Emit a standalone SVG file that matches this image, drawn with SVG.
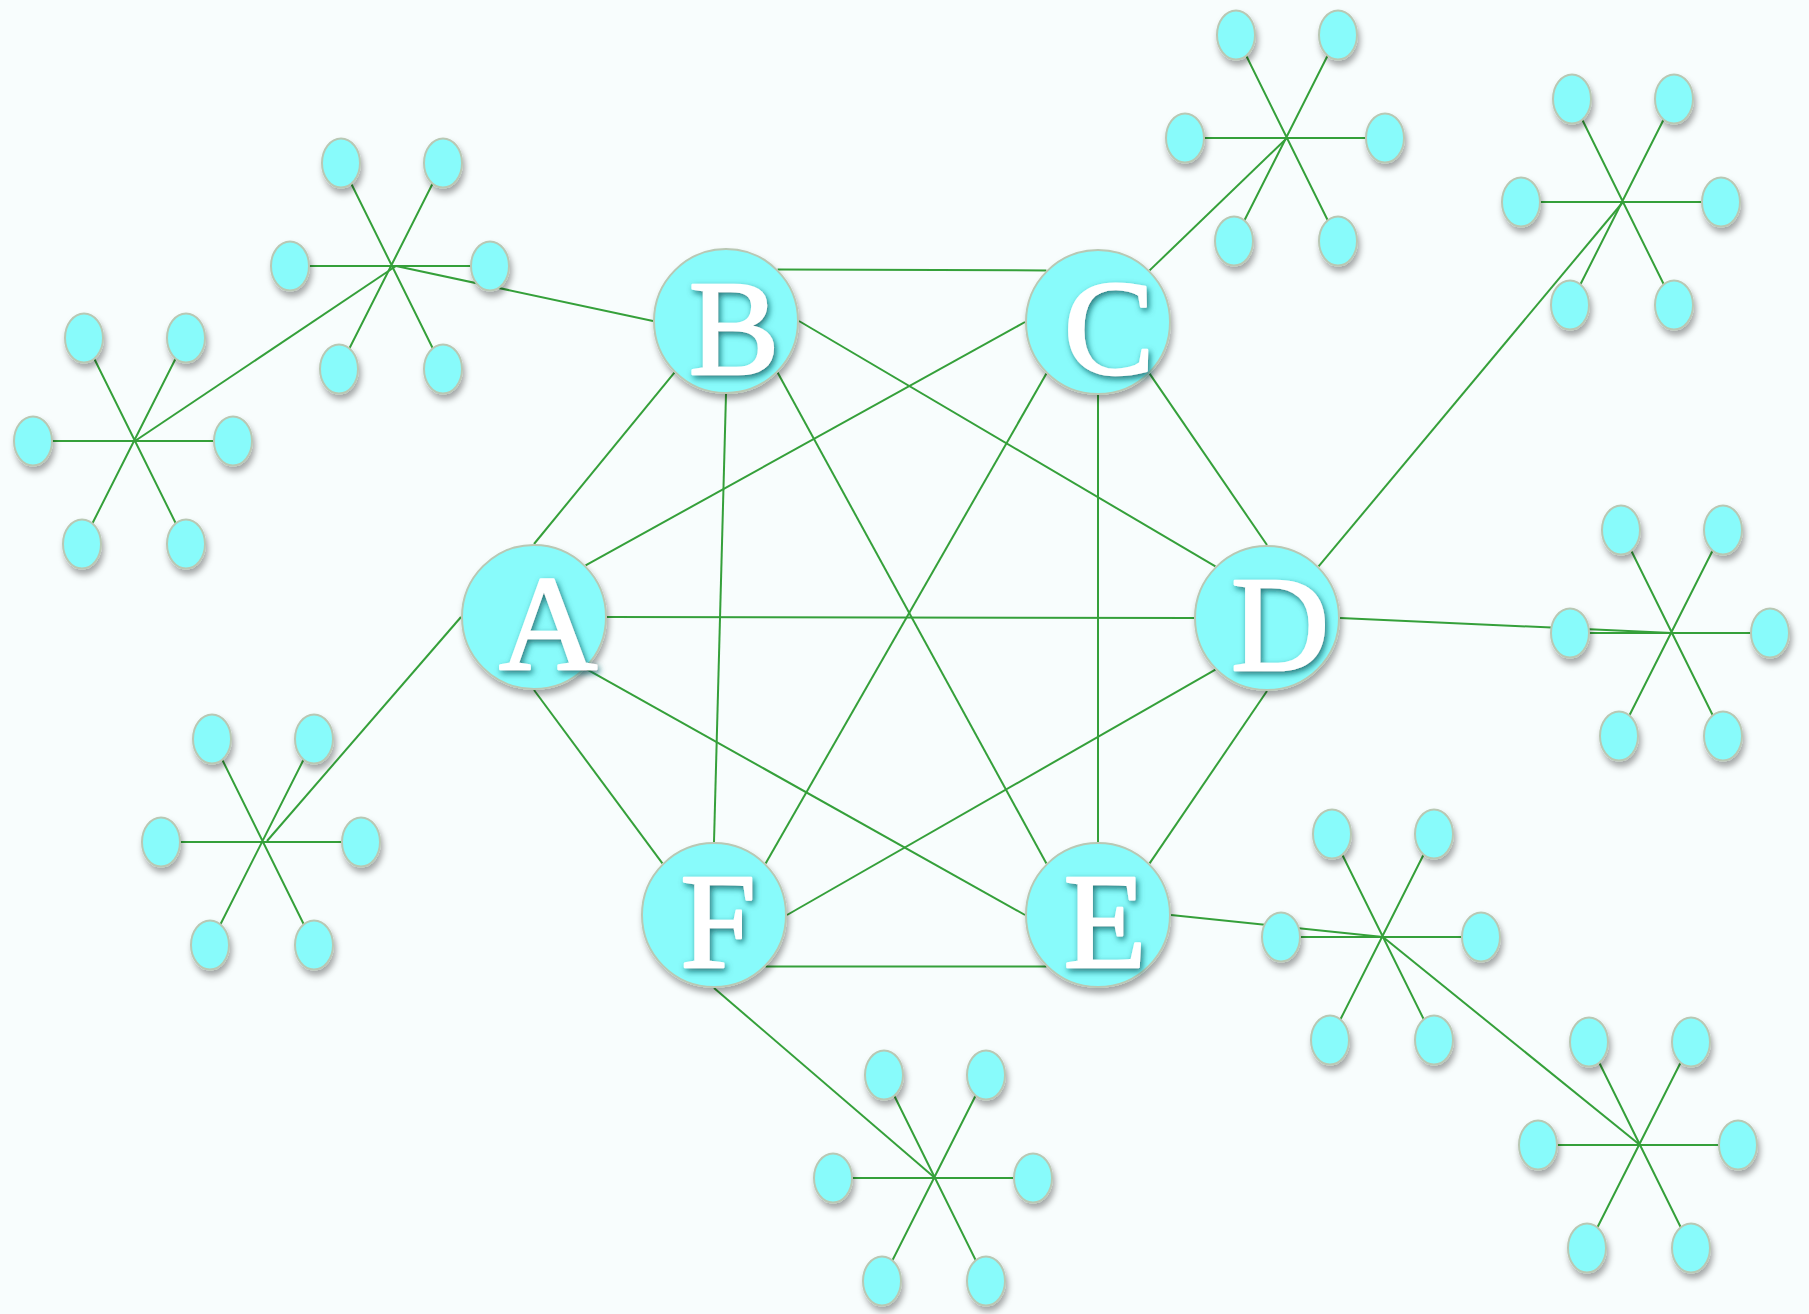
<svg xmlns="http://www.w3.org/2000/svg" width="1809" height="1314" viewBox="0 0 1809 1314">
<defs>
<filter id="sh" x="-30%" y="-30%" width="160%" height="170%">
<feDropShadow dx="2" dy="5" stdDeviation="3" flood-color="#000" flood-opacity="0.35"/>
</filter>
<filter id="tsh" x="-30%" y="-30%" width="160%" height="160%">
<feDropShadow dx="2" dy="3" stdDeviation="3" flood-color="#0d5f63" flood-opacity="0.85"/>
</filter>
<style>
.bg{fill:#f8fdfd}
.e{stroke:#35a03a;stroke-width:2;fill:none}
.m{fill:#88fbfb;stroke:#b9c8b4;stroke-width:2;filter:url(#sh)}
.s{fill:#88fbfb;stroke:#b9c8b4;stroke-width:2;filter:url(#sh)}
.t{font-family:"Liberation Serif","Times New Roman",serif;font-size:136px;font-weight:normal;fill:#ffffff;stroke:#ffffff;stroke-width:2.5;stroke-linejoin:round;text-anchor:middle;filter:url(#tsh)}
</style>
</defs>
<rect class="bg" x="0" y="0" width="1809" height="1314"/>
<g id="connectors" class="e">
<line x1="777.6" y1="269.4" x2="1046.4" y2="270.4"/>
<line x1="674.4" y1="372.6" x2="534" y2="544"/>
<line x1="726" y1="394" x2="714" y2="842"/>
<line x1="777.6" y1="372.6" x2="1046.4" y2="863.4"/>
<line x1="799" y1="321" x2="1215.4" y2="566.4"/>
<line x1="1025" y1="322" x2="585.6" y2="565.4"/>
<line x1="1046.4" y1="373.6" x2="765.6" y2="863.4"/>
<line x1="1098" y1="395" x2="1098" y2="842"/>
<line x1="1149.6" y1="373.6" x2="1267" y2="545"/>
<line x1="607" y1="617" x2="1194" y2="618"/>
<line x1="534" y1="690" x2="662.4" y2="863.4"/>
<line x1="585.6" y1="668.6" x2="1025" y2="915"/>
<line x1="1215.4" y1="669.6" x2="787" y2="915"/>
<line x1="1267" y1="691" x2="1149.6" y2="863.4"/>
<line x1="765.6" y1="966.6" x2="1046.4" y2="966.6"/>
<line x1="653" y1="321" x2="396" y2="266"/>
<line x1="396" y1="266" x2="135" y2="441"/>
<line x1="461" y1="617" x2="267" y2="841"/>
<line x1="1149.6" y1="270.4" x2="1287" y2="138"/>
<line x1="1318.6" y1="566.4" x2="1623" y2="202"/>
<line x1="1340" y1="618" x2="1672" y2="633"/>
<line x1="1171" y1="915" x2="1383" y2="937"/>
<line x1="1383" y1="937" x2="1640" y2="1145"/>
<line x1="714" y1="988" x2="935" y2="1178"/>
<path d="M341 163L443 369M443 163L339 369M290 266H490"/>
<path d="M84 338L186 544M186 338L82 544M33 441H233"/>
<path d="M212 739L314 945M314 739L210 945M161 842H361"/>
<path d="M1236 35L1338 241M1338 35L1234 241M1185 138H1385"/>
<path d="M1572 99L1674 305M1674 99L1570 305M1521 202H1721"/>
<path d="M1621 530L1723 736M1723 530L1619 736M1570 633H1770"/>
<path d="M1332 834L1434 1040M1434 834L1330 1040M1281 937H1481"/>
<path d="M1589 1042L1691 1248M1691 1042L1587 1248M1538 1145H1738"/>
<path d="M884 1075L986 1281M986 1075L882 1281M833 1178H1033"/>
</g>
<g id="star1">
<g id="s1-tl"><ellipse class="s" cx="341" cy="163" rx="19" ry="24.5"/></g>
<g id="s1-tr"><ellipse class="s" cx="443" cy="163" rx="19" ry="24.5"/></g>
<g id="s1-l"><ellipse class="s" cx="290" cy="266" rx="19" ry="24.5"/></g>
<g id="s1-r"><ellipse class="s" cx="490" cy="266" rx="19" ry="24.5"/></g>
<g id="s1-bl"><ellipse class="s" cx="339" cy="369" rx="19" ry="24.5"/></g>
<g id="s1-br"><ellipse class="s" cx="443" cy="369" rx="19" ry="24.5"/></g>
</g>
<g id="star2">
<g id="s2-tl"><ellipse class="s" cx="84" cy="338" rx="19" ry="24.5"/></g>
<g id="s2-tr"><ellipse class="s" cx="186" cy="338" rx="19" ry="24.5"/></g>
<g id="s2-l"><ellipse class="s" cx="33" cy="441" rx="19" ry="24.5"/></g>
<g id="s2-r"><ellipse class="s" cx="233" cy="441" rx="19" ry="24.5"/></g>
<g id="s2-bl"><ellipse class="s" cx="82" cy="544" rx="19" ry="24.5"/></g>
<g id="s2-br"><ellipse class="s" cx="186" cy="544" rx="19" ry="24.5"/></g>
</g>
<g id="star3">
<g id="s3-tl"><ellipse class="s" cx="212" cy="739" rx="19" ry="24.5"/></g>
<g id="s3-tr"><ellipse class="s" cx="314" cy="739" rx="19" ry="24.5"/></g>
<g id="s3-l"><ellipse class="s" cx="161" cy="842" rx="19" ry="24.5"/></g>
<g id="s3-r"><ellipse class="s" cx="361" cy="842" rx="19" ry="24.5"/></g>
<g id="s3-bl"><ellipse class="s" cx="210" cy="945" rx="19" ry="24.5"/></g>
<g id="s3-br"><ellipse class="s" cx="314" cy="945" rx="19" ry="24.5"/></g>
</g>
<g id="star4">
<g id="s4-tl"><ellipse class="s" cx="1236" cy="35" rx="19" ry="24.5"/></g>
<g id="s4-tr"><ellipse class="s" cx="1338" cy="35" rx="19" ry="24.5"/></g>
<g id="s4-l"><ellipse class="s" cx="1185" cy="138" rx="19" ry="24.5"/></g>
<g id="s4-r"><ellipse class="s" cx="1385" cy="138" rx="19" ry="24.5"/></g>
<g id="s4-bl"><ellipse class="s" cx="1234" cy="241" rx="19" ry="24.5"/></g>
<g id="s4-br"><ellipse class="s" cx="1338" cy="241" rx="19" ry="24.5"/></g>
</g>
<g id="star5">
<g id="s5-tl"><ellipse class="s" cx="1572" cy="99" rx="19" ry="24.5"/></g>
<g id="s5-tr"><ellipse class="s" cx="1674" cy="99" rx="19" ry="24.5"/></g>
<g id="s5-l"><ellipse class="s" cx="1521" cy="202" rx="19" ry="24.5"/></g>
<g id="s5-r"><ellipse class="s" cx="1721" cy="202" rx="19" ry="24.5"/></g>
<g id="s5-bl"><ellipse class="s" cx="1570" cy="305" rx="19" ry="24.5"/></g>
<g id="s5-br"><ellipse class="s" cx="1674" cy="305" rx="19" ry="24.5"/></g>
</g>
<g id="star6">
<g id="s6-tl"><ellipse class="s" cx="1621" cy="530" rx="19" ry="24.5"/></g>
<g id="s6-tr"><ellipse class="s" cx="1723" cy="530" rx="19" ry="24.5"/></g>
<g id="s6-l"><ellipse class="s" cx="1570" cy="633" rx="19" ry="24.5"/></g>
<g id="s6-r"><ellipse class="s" cx="1770" cy="633" rx="19" ry="24.5"/></g>
<g id="s6-bl"><ellipse class="s" cx="1619" cy="736" rx="19" ry="24.5"/></g>
<g id="s6-br"><ellipse class="s" cx="1723" cy="736" rx="19" ry="24.5"/></g>
</g>
<g id="star7">
<g id="s7-tl"><ellipse class="s" cx="1332" cy="834" rx="19" ry="24.5"/></g>
<g id="s7-tr"><ellipse class="s" cx="1434" cy="834" rx="19" ry="24.5"/></g>
<g id="s7-l"><ellipse class="s" cx="1281" cy="937" rx="19" ry="24.5"/></g>
<g id="s7-r"><ellipse class="s" cx="1481" cy="937" rx="19" ry="24.5"/></g>
<g id="s7-bl"><ellipse class="s" cx="1330" cy="1040" rx="19" ry="24.5"/></g>
<g id="s7-br"><ellipse class="s" cx="1434" cy="1040" rx="19" ry="24.5"/></g>
</g>
<g id="star8">
<g id="s8-tl"><ellipse class="s" cx="1589" cy="1042" rx="19" ry="24.5"/></g>
<g id="s8-tr"><ellipse class="s" cx="1691" cy="1042" rx="19" ry="24.5"/></g>
<g id="s8-l"><ellipse class="s" cx="1538" cy="1145" rx="19" ry="24.5"/></g>
<g id="s8-r"><ellipse class="s" cx="1738" cy="1145" rx="19" ry="24.5"/></g>
<g id="s8-bl"><ellipse class="s" cx="1587" cy="1248" rx="19" ry="24.5"/></g>
<g id="s8-br"><ellipse class="s" cx="1691" cy="1248" rx="19" ry="24.5"/></g>
</g>
<g id="star9">
<g id="s9-tl"><ellipse class="s" cx="884" cy="1075" rx="19" ry="24.5"/></g>
<g id="s9-tr"><ellipse class="s" cx="986" cy="1075" rx="19" ry="24.5"/></g>
<g id="s9-l"><ellipse class="s" cx="833" cy="1178" rx="19" ry="24.5"/></g>
<g id="s9-r"><ellipse class="s" cx="1033" cy="1178" rx="19" ry="24.5"/></g>
<g id="s9-bl"><ellipse class="s" cx="882" cy="1281" rx="19" ry="24.5"/></g>
<g id="s9-br"><ellipse class="s" cx="986" cy="1281" rx="19" ry="24.5"/></g>
</g>
<g id="A"><circle class="m" cx="534" cy="617" r="72"/><text class="t" x="548" y="669">A</text></g>
<g id="B"><circle class="m" cx="726" cy="321" r="72"/><text class="t" x="734" y="374">B</text></g>
<g id="C"><circle class="m" cx="1098" cy="322" r="72"/><text class="t" x="1109" y="374">C</text></g>
<g id="D"><circle class="m" cx="1267" cy="618" r="72"/><text class="t" x="1280" y="670">D</text></g>
<g id="E"><circle class="m" cx="1098" cy="915" r="72"/><text class="t" x="1105" y="967">E</text></g>
<g id="F"><circle class="m" cx="714" cy="915" r="72"/><text class="t" x="718" y="967">F</text></g>
</svg>
